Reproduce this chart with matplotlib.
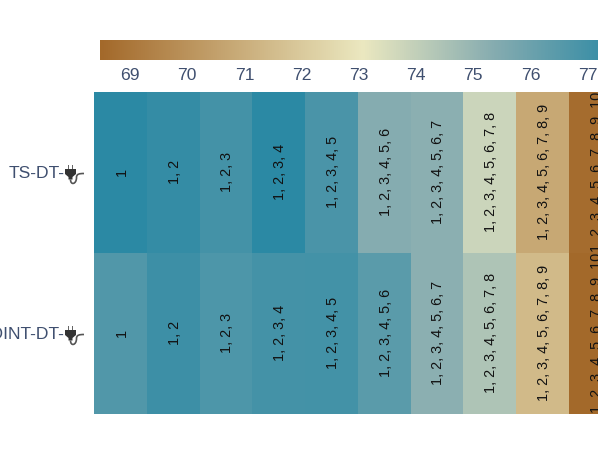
import numpy as np
import matplotlib
matplotlib.use('Agg')
import matplotlib.pyplot as plt
from matplotlib.colors import LinearSegmentedColormap
from matplotlib.patches import Polygon, Rectangle
from matplotlib.path import Path
from matplotlib.patches import PathPatch

plt.rcParams['font.family'] = ['Liberation Sans', 'DejaVu Sans']

# values
features = [69, 70, 71, 72, 73, 74, 75, 76, 77, 78]
row_labels = ['TS-DT-', 'POINT-DT-']
row1_values = [77.60, 77.40, 77.00, 77.60, 76.85, 75.40, 75.25, 73.80, 70.75, 68.60]
row2_values = [76.70, 77.20, 76.80, 77.00, 77.05, 76.45, 75.25, 74.45, 71.40, 68.48]
cell_text = ['1', '1, 2', '1, 2, 3', '1, 2, 3, 4', '1, 2, 3, 4, 5', '1, 2, 3, 4, 5, 6',
             '1, 2, 3, 4, 5, 6, 7', '1, 2, 3, 4, 5, 6, 7, 8',
             '1, 2, 3, 4, 5, 6, 7, 8, 9', '1, 2, 3, 4, 5, 6, 7, 8, 9, 10']
stops = [(0, '#a3692a'), (0.5, '#ebe8c0'), (0.75, '#86acb0'), (1, '#2a88a4')]
vmin, vmax = 68.48, 77.67

W, H = 598, 466
cmap = LinearSegmentedColormap.from_list('brteal', stops)
label_color = '#3f4f6f'

fig = plt.figure(figsize=(W / 100, H / 100), dpi=100)


def px_axes(x0, y0, x1, y1):
    return fig.add_axes([x0 / W, 1 - y1 / H, (x1 - x0) / W, (y1 - y0) / H])


# main heatmap, cells about 52.75 px wide
cell_w = 52.75
ax = px_axes(94, 92, 598, 414)
z = np.array([row1_values, row2_values])
ax.pcolormesh(np.arange(11) - 0.5, [-0.5, 0.5, 1.5], z, cmap=cmap, vmin=vmin, vmax=vmax)
ax.set_xlim(-0.5, -0.5 + 504 / cell_w)
ax.set_ylim(1.5, -0.5)
ax.axis('off')
for r in range(2):
    for c, label in enumerate(cell_text):
        ax.text(c + 0.03, r - 0.006, label, rotation=90, ha='center', va='center',
                fontsize=10.4, color='#111111', clip_on=True)

# colour bar on top
cax = px_axes(100, 40, 598, 60)
grad = np.linspace(vmin, vmax, 512).reshape(1, -1)
cax.imshow(grad, cmap=cmap, vmin=vmin, vmax=vmax, aspect='auto', extent=(vmin, vmax, 0, 1))
cax.set_xlim(vmin, vmin + (598 - 100) / 57.2)
cax.axis('off')
for f in features[:9]:
    fig.text((130 + (f - 69) * 57.2) / W, 1 - 75 / H, str(f), ha='center', va='center',
             fontsize=12.6, color=label_color)

# row labels and plug icons, drawn on a pixel overlay
over = fig.add_axes([0, 0, 1, 1])
over.set_xlim(0, W)
over.set_ylim(H, 0)
over.axis('off')
over.patch.set_alpha(0)
for label, y in zip(row_labels, [173.5, 334.5]):
    over.text(64.5, y, label, ha='right', va='center', fontsize=12.6, color=label_color)
    ic = '#333333'
    over.add_patch(Rectangle((67.5, y - 9), 1.3, 5, color='#666666', lw=0))
    over.add_patch(Rectangle((71.5, y - 9), 1.3, 5, color='#666666', lw=0))
    over.add_patch(Polygon([(65, y - 4.5), (76, y - 4.5), (76, y + 0.5), (72.5, y + 3.5),
                            (72.5, y + 6), (68.5, y + 6), (68.5, y + 3.5), (65, y + 0.5)],
                           color=ic, lw=0))
    cord = Path([(70.5, y + 6), (70.5, y + 12), (76.5, y + 11), (76.5, y + 4),
                 (76.5, y + 0.5), (79, y + 0), (84, y + 0)],
                [Path.MOVETO, Path.CURVE4, Path.CURVE4, Path.CURVE4,
                 Path.CURVE4, Path.CURVE4, Path.CURVE4])
    over.add_patch(PathPatch(cord, fc='none', ec='#555555', lw=1.2))

fig.savefig('out.png', dpi=100)
